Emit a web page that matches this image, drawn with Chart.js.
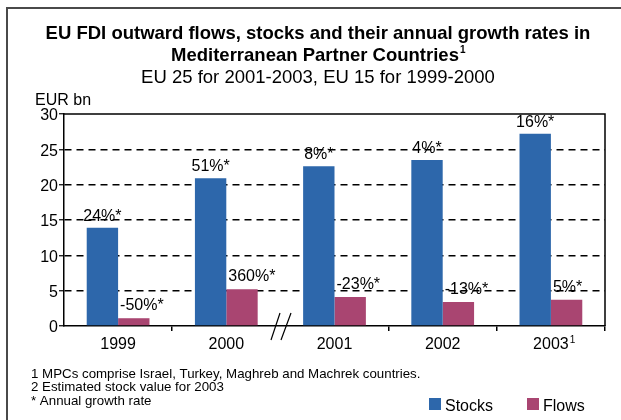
<!DOCTYPE html>
<html>
<head>
<meta charset="utf-8">
<script src="https://cdn.jsdelivr.net/npm/chart.js@4/dist/chart.umd.min.js"></script>
<style>
  html, body { margin: 0; padding: 0; background: #fff; }
  #wrap { width: 621px; height: 420px; }
</style>
</head>
<body>
<div id="wrap"><canvas id="myChart" width="621" height="420"></canvas></div>
<script>
const years = ["1999", "2000", "2001", "2002", "2003"];
const stocks = [13.9, 20.9, 22.6, 23.5, 27.2];
const flows = [1.1, 5.2, 4.1, 3.4, 3.7];
const stocksGrowth = ["24%*", "51%*", "8%*", "4%*", "16%*"];
const flowsGrowth = ["-50%*", "360%*", "-23%*", "-13%*", "5%*"];
const yTicks = [0, 5, 10, 15, 20, 25, 30];
const footnotes = [
  "1 MPCs comprise Israel, Turkey, Maghreb and Machrek countries.",
  "2 Estimated stock value for 2003",
  "* Annual growth rate"
];

const FONT = "'Liberation Sans', Arial, sans-serif";
const BLUE = "#2D67AB";
const PINK = "#A94571";

// titles, frame, plot box, axis break, value labels, footnotes, legend
const decor = {
  id: "decor",
  afterDraw(chart) {
    const ctx = chart.ctx;
    const area = chart.chartArea;
    ctx.save();

    // outer frame (only top and left edges visible)
    ctx.strokeStyle = "#4a4a4a";
    ctx.lineWidth = 2;
    ctx.beginPath();
    ctx.moveTo(7, 420);
    ctx.lineTo(7, 8);
    ctx.lineTo(621, 8);
    ctx.stroke();

    // titles
    ctx.fillStyle = "#000";
    ctx.textBaseline = "alphabetic";
    ctx.textAlign = "center";
    ctx.font = "bold 18.5px " + FONT;
    ctx.fillText("EU FDI outward flows, stocks and their annual growth rates in", 318, 39);
    const t2 = "Mediterranean Partner Countries";
    const w2 = ctx.measureText(t2).width;
    ctx.textAlign = "left";
    ctx.fillText(t2, 318 - (w2 + 6) / 2, 61);
    ctx.font = "bold 10px " + FONT;
    ctx.fillText("1", 318 - (w2 + 6) / 2 + w2 + 1, 53);
    ctx.textAlign = "center";
    ctx.font = "18.5px " + FONT;
    ctx.fillText("EU 25 for 2001-2003, EU 15 for 1999-2000", 318, 83);
    ctx.textAlign = "left";
    ctx.font = "16px " + FONT;
    ctx.fillText("EUR bn", 35, 105);

    // plot box top and right
    ctx.strokeStyle = "#000";
    ctx.lineWidth = 1.5;
    ctx.beginPath();
    ctx.moveTo(area.left, area.top);
    ctx.lineTo(area.right, area.top);
    ctx.lineTo(area.right, area.bottom);
    ctx.stroke();

    // axis break
    ctx.lineWidth = 1.2;
    ctx.beginPath();
    ctx.moveTo(271, 340); ctx.lineTo(280, 313);
    ctx.moveTo(281, 340); ctx.lineTo(291, 313);
    ctx.stroke();

    // growth labels
    ctx.font = "16px " + FONT;
    ctx.fillStyle = "#000";
    const m0 = chart.getDatasetMeta(0);
    const m1 = chart.getDatasetMeta(1);
    m0.data.forEach((bar, i) => {
      ctx.textAlign = "center";
      ctx.fillText(stocksGrowth[i], bar.x, bar.y - 7);
    });
    m1.data.forEach((bar, i) => {
      ctx.textAlign = "left";
      ctx.fillText(flowsGrowth[i], bar.x - bar.width / 2 + 2, bar.y - 8);
    });

    // superscript on last year label
    const xs = chart.scales.x;
    const wYear = ctx.measureText(years[4]).width;
    ctx.font = "10px " + FONT;
    ctx.textAlign = "left";
    ctx.fillText("1", xs.getPixelForTick(4) + wYear / 2 + 1, 343);

    // footnotes
    ctx.font = "13.3px " + FONT;
    footnotes.forEach((line, i) => {
      ctx.fillText(line, 31, 378 + i * 13.3);
    });

    // legend
    const items = [
      { x: 429, label: chart.data.datasets[0].label, color: BLUE },
      { x: 527, label: chart.data.datasets[1].label, color: PINK }
    ];
    ctx.font = "16px " + FONT;
    items.forEach(it => {
      ctx.fillStyle = it.color;
      ctx.fillRect(it.x, 398, 12, 12);
      ctx.fillStyle = "#000";
      ctx.fillText(it.label, it.x + 16, 411);
    });

    ctx.restore();
  }
};

const ctx = document.getElementById("myChart").getContext("2d");
const myChart = new Chart(ctx, {
  type: "bar",
  data: {
    labels: years,
    datasets: [
      {
        label: "Stocks",
        data: stocks,
        backgroundColor: BLUE,
        borderWidth: 0,
        barPercentage: 1,
        categoryPercentage: 0.58
      },
      {
        label: "Flows",
        data: flows,
        backgroundColor: PINK,
        borderWidth: 0,
        barPercentage: 1,
        categoryPercentage: 0.58
      }
    ]
  },
  options: {
    responsive: false,
    animation: false,
    layout: { padding: { left: 0, top: 114, right: 16, bottom: 0 } },
    plugins: {
      legend: { display: false },
      title: { display: false },
      tooltip: { enabled: false }
    },
    scales: {
      x: {
        afterFit: (scale) => { scale.height = 94; },
        grid: {
          offset: true,
          drawOnChartArea: false,
          tickLength: 5,
          lineWidth: 1.5,
          color: (c) => (c.index === 0 || c.index === 2) ? "rgba(0,0,0,0)" : "#000"
        },
        border: { color: "#000", width: 1.5 },
        ticks: {
          color: "#000",
          padding: 4,
          maxRotation: 0,
          font: { family: FONT, size: 16 }
        }
      },
      y: {
        min: 0,
        max: 30,
        afterFit: (scale) => { scale.width = 64; },
        afterBuildTicks: (scale) => { scale.ticks = yTicks.map(v => ({ value: v })); },
        grid: {
          tickLength: 5,
          lineWidth: 1.5,
          tickWidth: 1.2,
          tickColor: "#000",
          color: (c) => (c.tick && (c.tick.value === 0 || c.tick.value === 30)) ? "rgba(0,0,0,0)" : "#000"
        },
        border: { color: "#000", width: 1.5, dash: [7, 5] },
        ticks: {
          color: "#000",
          padding: 1,
          labelOffset: 2,
          font: { family: FONT, size: 16 }
        }
      }
    }
  },
  plugins: [decor]
});
</script>
</body>
</html>
